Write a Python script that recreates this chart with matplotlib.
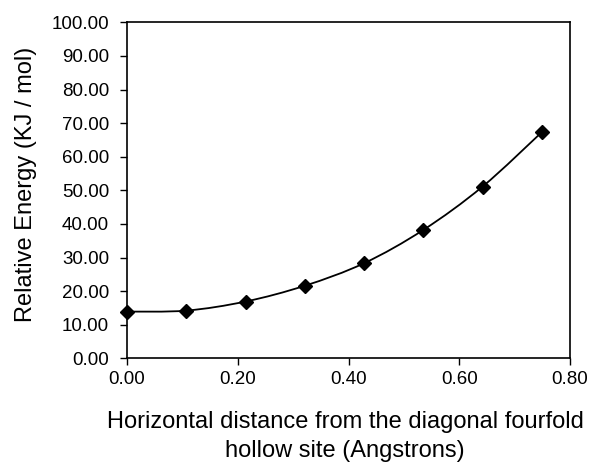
import numpy as np
import matplotlib.pyplot as plt
from matplotlib.path import Path
from matplotlib.patches import PathPatch

plt.rcParams['font.family'] = ['Liberation Sans', 'DejaVu Sans']

# data
distance = [0.000, 0.107, 0.214, 0.321, 0.428, 0.535, 0.642, 0.749]
energy = [13.9, 14.2, 16.9, 21.6, 28.3, 38.2, 51.1, 67.3]

y_ticks = [0, 10, 20, 30, 40, 50, 60, 70, 80, 90, 100]
x_ticks = [0.0, 0.2, 0.4, 0.6, 0.8]

fig = plt.figure(figsize=(5.9, 4.63), dpi=100)
ax = fig.add_axes([0.2153, 0.2261, 0.7508, 0.7257])

# smoothed line like the spreadsheet chart (catmull-rom -> bezier)
pts = np.column_stack([distance, energy])
verts = [tuple(pts[0])]
codes = [Path.MOVETO]
t = 1.0 / 6.0
for i in range(len(pts) - 1):
    p0 = pts[i - 1] if i > 0 else pts[i]
    p1 = pts[i]
    p2 = pts[i + 1]
    p3 = pts[i + 2] if i + 2 < len(pts) else pts[i + 1]
    c1 = p1 + (p2 - p0) * t
    c2 = p2 - (p3 - p1) * t
    verts += [tuple(c1), tuple(c2), tuple(p2)]
    codes += [Path.CURVE4] * 3
ax.add_patch(PathPatch(Path(verts, codes), fill=False, lw=1.3, color='black', zorder=2))

ax.plot(distance, energy, linestyle='none', marker='D', ms=7,
        color='black', clip_on=False, zorder=3)

ax.set_xlim(0, 0.8)
ax.set_ylim(0, 100)
ax.set_xticks(x_ticks)
ax.set_yticks(y_ticks)
ax.set_xticklabels([f'{v:.2f}' for v in x_ticks])
ax.set_yticklabels([f'{v:.2f}' for v in y_ticks])
ax.tick_params(direction='out', length=5, width=1, labelsize=13.5)
ax.tick_params(axis='y', pad=8)
ax.tick_params(axis='x', pad=4)

for s in ax.spines.values():
    s.set_linewidth(1.2)

ax.set_ylabel('Relative Energy (KJ / mol)', fontsize=17, labelpad=10)
ax.set_xlabel('Horizontal distance from the diagonal fourfold\nhollow site (Angstrons)',
              fontsize=17, labelpad=16.5, linespacing=1.42)
# labels sit a little off-centre in the original
ax.xaxis.label.set_x(0.492)
ax.yaxis.label.set_y(0.518)

fig.savefig('out.png', dpi=100)
